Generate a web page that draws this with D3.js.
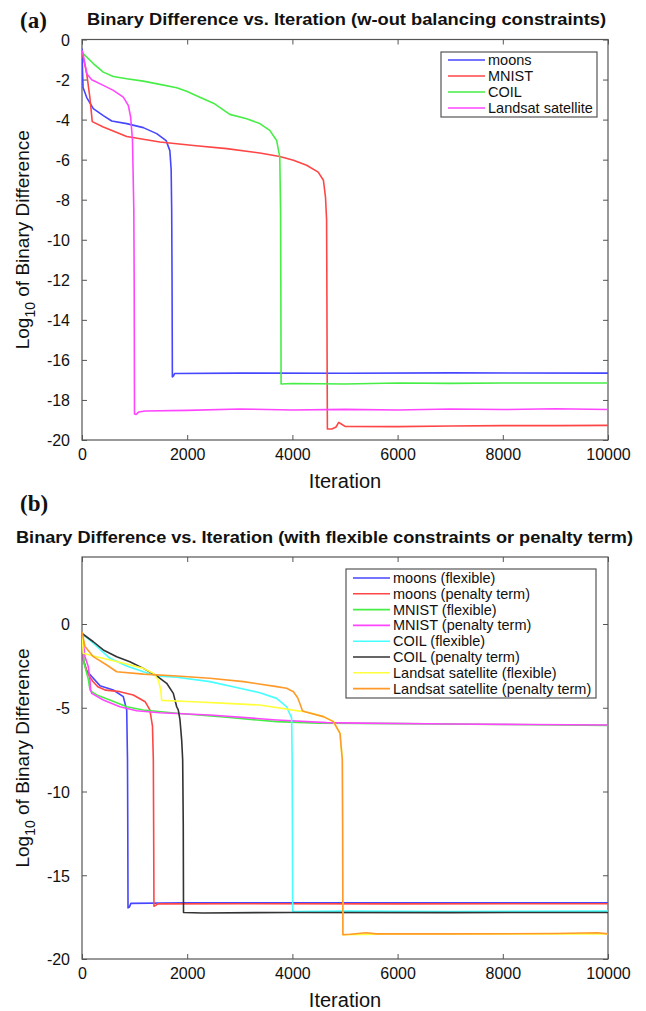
<!DOCTYPE html>
<html><head><meta charset="utf-8">
<script src="https://cdn.jsdelivr.net/npm/d3@7"></script>
<style>body{margin:0;background:#fff}svg{display:block}</style>
</head><body>
<svg id="c" width="646" height="1011"></svg>
<script>
// ---------- DATA ----------
const xTicks = [0, 2000, 4000, 6000, 8000, 10000];
const yTicksA = [0, -2, -4, -6, -8, -10, -12, -14, -16, -18, -20];
const yTicksB = [0, -5, -10, -15, -20];

const namesA = ["moons", "MNIST", "COIL", "Landsat satellite"];
const moonsA = [[0,-0.45],[10,-1.6],[20,-2.4],[90,-2.9],[215,-3.45],[405,-3.8],[565,-4.07],[850,-4.2],[1165,-4.4],[1420,-4.7],[1600,-5.05],[1670,-5.55],[1695,-6.5],[1705,-8.5],[1712,-12],[1718,-16.85],[1740,-16.8],[1760,-16.68],[3000,-16.66],[5000,-16.67],[7000,-16.65],[10000,-16.66]];
const mnistA = [[0,-0.6],[90,-1.7],[150,-2.9],[195,-4.1],[405,-4.37],[850,-4.84],[1480,-5.12],[2120,-5.29],[2750,-5.45],[3380,-5.67],[3760,-5.84],[4020,-6.03],[4270,-6.28],[4490,-6.62],[4590,-7.03],[4630,-7.9],[4650,-9],[4655,-12],[4660,-16],[4665,-19.45],[4750,-19.45],[4830,-19.35],[4880,-19.12],[4930,-19.2],[5000,-19.32],[6000,-19.33],[7000,-19.3],[8000,-19.28],[9000,-19.28],[10000,-19.27]];
const coilA = [[0,-0.6],[13,-0.68],[215,-1.2],[405,-1.63],[595,-1.85],[850,-1.96],[1165,-2.08],[1480,-2.24],[1800,-2.41],[1990,-2.58],[2240,-2.88],[2500,-3.18],[2810,-3.74],[3130,-3.96],[3380,-4.2],[3570,-4.54],[3700,-5.04],[3760,-5.87],[3775,-8.5],[3780,-12],[3785,-17.2],[4000,-17.18],[5000,-17.2],[6000,-17.15],[7000,-17.17],[8000,-17.15],[10000,-17.15]];
const landsatA = [[0,-0.55],[13,-0.63],[90,-1.71],[185,-2.01],[405,-2.29],[595,-2.54],[785,-2.88],[880,-3.29],[925,-3.87],[960,-5.04],[985,-8.5],[992,-12],[998,-18.7],[1030,-18.72],[1080,-18.6],[1200,-18.55],[2000,-18.52],[3000,-18.45],[4000,-18.5],[5000,-18.47],[6000,-18.5],[7000,-18.45],[8000,-18.48],[9000,-18.44],[10000,-18.48]];

const namesB = ["moons (flexible)", "moons (penalty term)", "MNIST (flexible)", "MNIST (penalty term)", "COIL (flexible)", "COIL (penalty term)", "Landsat satellite (flexible)", "Landsat satellite (penalty term)"];
const moonsFlex = [[0,-0.5],[25,-2.15],[90,-2.8],[185,-3.14],[340,-3.68],[595,-3.94],[785,-4.34],[850,-5.13],[865,-8.1],[870,-12],[875,-16.95],[900,-16.9],[930,-16.68],[2000,-16.64],[5000,-16.65],[10000,-16.64]];
const moonsPen = [[0,-0.5],[30,-2.2],[100,-2.9],[200,-3.4],[300,-3.75],[450,-3.95],[720,-4.04],[975,-4.24],[1200,-4.64],[1290,-5.13],[1340,-6.1],[1356,-8.1],[1362,-12],[1368,-16.85],[1400,-16.8],[1440,-16.71],[3000,-16.7],[6000,-16.71],[10000,-16.7]];
const mnistFlex = [[0,-0.5],[40,-2.35],[120,-3.3],[152,-3.94],[184,-4.04],[280,-4.24],[530,-4.54],[850,-4.94],[1165,-5.13],[1800,-5.33],[2750,-5.57],[3700,-5.83],[4500,-5.92],[6000,-5.95],[8000,-6.0],[10000,-6.05]];
const mnistPen = [[0,-0.5],[57,-1.95],[120,-2.55],[152,-3.34],[165,-3.94],[184,-4.14],[405,-4.54],[720,-4.94],[1040,-5.18],[1480,-5.3],[2430,-5.43],[3700,-5.73],[4650,-5.89],[5300,-5.92],[7000,-5.97],[8500,-6.0],[10000,-6.03]];
const coilFlex = [[0,-0.56],[215,-1.15],[530,-2.05],[850,-2.51],[1165,-2.85],[1420,-3.1],[1800,-3.18],[2430,-3.44],[3000,-3.84],[3380,-4.1],[3700,-4.44],[3890,-4.94],[3985,-5.6],[3995,-8],[4000,-12],[4005,-17.16],[5000,-17.14],[7000,-17.16],[10000,-17.14]];
const coilPen = [[0,-0.56],[215,-1.06],[405,-1.55],[660,-1.95],[910,-2.25],[1165,-2.65],[1420,-3.1],[1610,-3.54],[1736,-4.14],[1800,-4.94],[1830,-5.13],[1863,-5.73],[1895,-6.93],[1914,-8.12],[1925,-12],[1930,-17.22],[2300,-17.25],[4000,-17.22],[7000,-17.23],[10000,-17.22]];
const landsatFlex = [[0,-0.5],[25,-1.75],[215,-1.91],[530,-2.15],[850,-2.39],[1165,-2.65],[1356,-2.94],[1450,-3.34],[1496,-3.94],[1515,-4.56],[2116,-4.64],[2750,-4.74],[3380,-4.84],[4144,-5.2],[4240,-5.24],[4590,-5.53],[4780,-5.83],[4905,-6.53],[4949,-8.12],[4955,-12],[4960,-18.55],[6000,-18.5],[10000,-18.5]];
const landsatPen = [[0,-0.46],[57,-1.35],[215,-1.95],[470,-2.45],[660,-2.85],[1165,-2.99],[1800,-3.1],[2430,-3.24],[3070,-3.44],[3700,-3.74],[3890,-3.84],[4020,-4.04],[4100,-4.4],[4160,-4.9],[4190,-5.18],[4240,-5.24],[4590,-5.53],[4780,-5.83],[4905,-6.53],[4949,-8.12],[4955,-12],[4960,-18.55],[5100,-18.52],[5400,-18.43],[5600,-18.5],[7000,-18.5],[9000,-18.48],[9800,-18.43],[10000,-18.5]];

const colorsA = ["#4646ff", "#ff4646", "#46ee46", "#ff46ff"];
const colorsB = ["#4646ff", "#ff4646", "#46ee46", "#ff46ff", "#46ffff", "#333333", "#ffff3c", "#ff9a2a"];

// ---------- DRAW ----------
const svg = d3.select("#c");
const FONT = "'Liberation Sans', Arial, Helvetica, sans-serif";
const AXC = "#555";

function panel(cfg) {
  const x = d3.scaleLinear().domain([0, 10000]).range([82, 608]);
  const y = d3.scaleLinear().domain(cfg.yDomain).range([cfg.bottom, cfg.top]);
  const g = svg.append("g");

  const tickLen = 5;
  const fmt = d => d3.format("d")(d).replace("−", "-");
  const ax = g.append("g").attr("transform", `translate(0,${cfg.bottom})`)
    .call(d3.axisBottom(x).tickValues(xTicks).tickSize(-tickLen).tickPadding(9).tickFormat(fmt));
  const axT = g.append("g").attr("transform", `translate(0,${cfg.top})`)
    .call(d3.axisTop(x).tickValues(xTicks).tickSize(-tickLen).tickFormat(""));
  const ayL = g.append("g").attr("transform", `translate(82,0)`)
    .call(d3.axisLeft(y).tickValues(cfg.yTicks).tickSize(-tickLen).tickPadding(12).tickFormat(fmt));
  const ayR = g.append("g").attr("transform", `translate(608,0)`)
    .call(d3.axisRight(y).tickValues(cfg.yTicks).tickSize(-tickLen).tickFormat(""));
  [ax, axT, ayL, ayR].forEach(a => {
    a.select(".domain").remove();
    a.selectAll(".tick line").attr("stroke", AXC).attr("stroke-width", 1);
    a.selectAll("text").attr("font-family", FONT).attr("font-size", 16).attr("fill", "#111");
  });
  ayL.selectAll("text").attr("dy", "0.36em");
  g.append("rect").attr("x", 82).attr("y", cfg.top).attr("width", 526).attr("height", cfg.bottom - cfg.top)
    .attr("fill", "none").attr("stroke", AXC).attr("stroke-width", 1.2);

  const line = d3.line().x(d => x(d[0])).y(d => y(d[1]));
  const clip = "clip" + cfg.id;
  svg.append("clipPath").attr("id", clip).append("rect")
    .attr("x", 82).attr("y", cfg.top).attr("width", 526).attr("height", cfg.bottom - cfg.top);
  const lg = g.append("g").attr("clip-path", `url(#${clip})`);
  cfg.series.forEach((s, i) => {
    lg.append("path").attr("d", line(s)).attr("fill", "none")
      .attr("stroke", cfg.colors[i]).attr("stroke-width", 1.6).attr("stroke-linejoin", "round");
  });

  const L = cfg.legend;
  const leg = g.append("g");
  leg.append("rect").attr("x", L.x0).attr("y", L.y0).attr("width", L.x1 - L.x0).attr("height", L.y1 - L.y0)
    .attr("fill", "#fff").attr("stroke", AXC).attr("stroke-width", 1.2);
  cfg.names.forEach((n, i) => {
    const yy = L.firstY + i * L.step;
    leg.append("line").attr("x1", L.lx0).attr("x2", L.lx1).attr("y1", yy).attr("y2", yy)
      .attr("stroke", cfg.colors[i]).attr("stroke-width", 1.6);
    leg.append("text").attr("x", L.tx).attr("y", yy).attr("dy", "0.35em")
      .attr("font-family", FONT).attr("font-size", 14.5).attr("fill", "#111").text(n);
  });

  g.append("text").attr("x", 345).attr("y", cfg.bottom + 48).attr("text-anchor", "middle")
    .attr("font-family", FONT).attr("font-size", 20).attr("fill", "#111").text("Iteration");
  const cy = (cfg.top + cfg.bottom) / 2;
  const yl = g.append("text").attr("transform", `translate(29,${cy}) rotate(-90)`)
    .attr("text-anchor", "middle").attr("font-family", FONT).attr("font-size", 19).attr("fill", "#111");
  yl.append("tspan").text("Log");
  yl.append("tspan").attr("dy", 6).attr("font-size", 14).text("10");
  yl.append("tspan").attr("dy", -6).text(" of Binary Difference");

  g.append("text").attr("x", cfg.letterX).attr("y", cfg.letterY)
    .attr("font-family", "'Liberation Serif', 'Times New Roman', serif").attr("font-weight", "bold")
    .attr("font-size", 23).attr("fill", "#111").text(cfg.letter);
  g.append("text").attr("x", cfg.titleX0).attr("y", cfg.titleY)
    .attr("font-family", FONT).attr("font-weight", "bold").attr("font-size", 16).attr("fill", "#111")
    .attr("textLength", cfg.titleW).attr("lengthAdjust", "spacingAndGlyphs").text(cfg.title);
}

panel({
  id: "a", top: 39.5, bottom: 440, yDomain: [-20, 0], yTicks: yTicksA,
  series: [moonsA, mnistA, coilA, landsatA], colors: colorsA, names: namesA,
  legend: {x0: 441, x1: 597, y0: 52, y1: 117, firstY: 60, step: 16, lx0: 448, lx1: 485, tx: 488},
  letter: "(a)", letterX: 20, letterY: 28,
  title: "Binary Difference vs. Iteration (w-out balancing constraints)", titleX0: 87, titleW: 519, titleY: 25
});
panel({
  id: "b", top: 557, bottom: 959, yDomain: [-20, 4], yTicks: yTicksB,
  series: [moonsFlex, moonsPen, mnistFlex, mnistPen, coilFlex, coilPen, landsatFlex, landsatPen], colors: colorsB, names: namesB,
  legend: {x0: 346, x1: 596, y0: 569, y1: 698, firstY: 578, step: 15.8, lx0: 353, lx1: 390, tx: 393},
  letter: "(b)", letterX: 20, letterY: 511,
  title: "Binary Difference vs. Iteration (with flexible constraints or penalty term)", titleX0: 16, titleW: 617, titleY: 543
});
</script>
</body></html>
